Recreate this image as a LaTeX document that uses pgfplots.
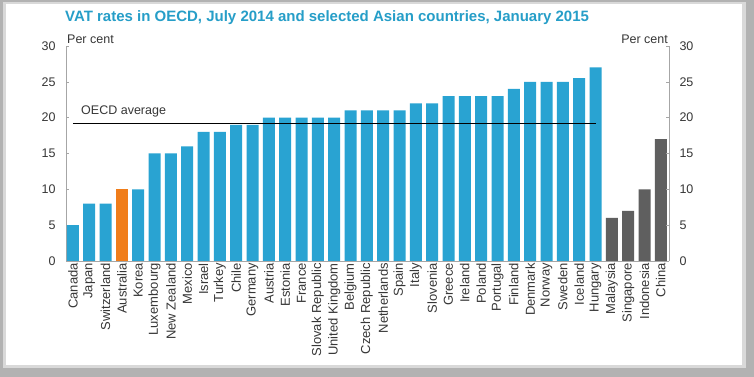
\documentclass[border=0pt]{standalone}
\usepackage{pgfplots}
\pgfplotsset{compat=1.18}
\usepackage{fontspec}
\setmainfont{Liberation Sans}
\definecolor{barblue}{RGB}{41,163,210}
\definecolor{barorange}{RGB}{240,125,26}
\definecolor{bargray}{RGB}{95,95,95}
\definecolor{titleblue}{RGB}{38,158,200}
\definecolor{txt}{RGB}{55,55,55}
\begin{document}
\begin{tikzpicture}
\fill[gray!60] (0pt,0pt) rectangle (754pt,377pt);
\fill[gray!30] (3pt,9pt) rectangle (746pt,375pt);
\fill[white] (6pt,12pt) rectangle (742pt,373pt);
\node[anchor=west, font=\bfseries\fontsize{15}{15}\selectfont, text=titleblue, inner sep=0pt] at (65pt,359pt) {VAT rates in OECD, July 2014 and selected Asian countries, January 2015};
\begin{axis}[at={(66pt,116pt)}, anchor=south west, scale only axis, width=603pt, height=215pt,
  xmin=-0.42, xmax=36.5, ymin=0, ymax=30,
  axis x line*=bottom, axis y line*=left,
  axis line style={gray!70, line width=0.8pt},
  ytick={0,5,...,30},
  xtick={0,...,36},
  xticklabels={Canada,Japan,Switzerland,Australia,Korea,Luxembourg,New Zealand,Mexico,Israel,Turkey,Chile,Germany,Austria,Estonia,France,Slovak Republic,United Kingdom,Belgium,Czech Republic,Netherlands,Spain,Italy,Slovenia,Greece,Ireland,Poland,Portugal,Finland,Denmark,Norway,Sweden,Iceland,Hungary,Malaysia,Singapore,Indonesia,China},
  x tick label style={rotate=90, anchor=east, font=\fontsize{13}{13}\selectfont, text=txt, inner sep=2pt},
  y tick label style={font=\fontsize{12.5}{12.5}\selectfont, text=txt},
  /pgf/number format/assume math mode=true,
  x tick style={draw=none},
  y tick style={gray!70, line width=0.6pt},
  major tick length=3pt,
  tick align=inside,
  yticklabel style={xshift=-7pt},
  clip=false,
]
\addplot[ybar, bar width=12pt, bar shift=0pt, fill=barblue, draw=none] coordinates {
(0,5) (1,8) (2,8) (4,10) (5,15) (6,15) (7,16) (8,18) (9,18) (10,19) (11,19)
(12,20) (13,20) (14,20) (15,20) (16,20) (17,21) (18,21) (19,21) (20,21)
(21,22) (22,22) (23,23) (24,23) (25,23) (26,23) (27,24) (28,25) (29,25) (30,25) (31,25.5) (32,27)};
\addplot[ybar, bar width=12pt, bar shift=0pt, fill=barorange, draw=none] coordinates {(3,10)};
\addplot[ybar, bar width=12pt, bar shift=0pt, fill=bargray, draw=none] coordinates {(33,6) (34,7) (35,10) (36,17)};
\addplot[black, line width=0.8pt, mark=none] coordinates {(0,19.2) (32,19.2)};
\node[anchor=base west, font=\fontsize{12.5}{12.5}\selectfont, text=txt, inner sep=0pt] at (axis cs:0.5,20.45) {OECD average};
\node[anchor=base west, font=\fontsize{12.5}{12.5}\selectfont, text=txt, inner sep=0pt] at (rel axis cs:0,1) [yshift=2.5pt, xshift=1pt] {Per cent};
\node[anchor=base east, font=\fontsize{12.5}{12.5}\selectfont, text=txt, inner sep=0pt] at (rel axis cs:1,1) [yshift=2.5pt, xshift=-1pt] {Per cent};
\end{axis}
\begin{axis}[at={(66pt,116pt)}, anchor=south west, scale only axis, width=603pt, height=215pt,
  xmin=-0.42, xmax=36.5, ymin=0, ymax=30,
  axis x line=none, axis y line*=right,
  axis line style={gray!70, line width=0.8pt},
  ytick={0,5,...,30},
  y tick label style={font=\fontsize{12.5}{12.5}\selectfont, text=txt},
  /pgf/number format/assume math mode=true,
  y tick style={gray!70, line width=0.6pt},
  major tick length=3pt,
  tick align=inside,
  yticklabel style={xshift=7pt},
]
\end{axis}
\end{tikzpicture}
\end{document}
